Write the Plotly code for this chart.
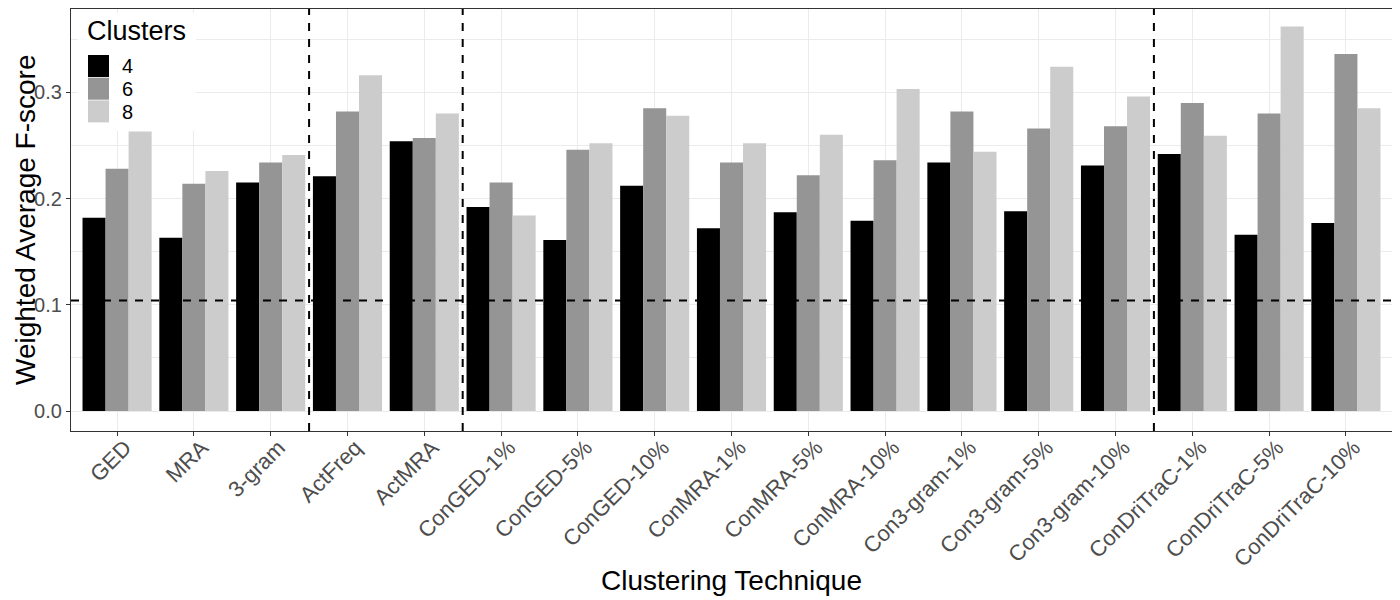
import plotly.graph_objects as go

categories = ["GED", "MRA", "3-gram", "ActFreq", "ActMRA",
              "ConGED-1%", "ConGED-5%", "ConGED-10%",
              "ConMRA-1%", "ConMRA-5%", "ConMRA-10%",
              "Con3-gram-1%", "Con3-gram-5%", "Con3-gram-10%",
              "ConDriTraC-1%", "ConDriTraC-5%", "ConDriTraC-10%"]

clusters_4 = [0.182, 0.163, 0.215, 0.221, 0.254, 0.192, 0.161, 0.212, 0.172,
              0.187, 0.179, 0.234, 0.188, 0.231, 0.242, 0.166, 0.177]
clusters_6 = [0.228, 0.214, 0.234, 0.282, 0.257, 0.215, 0.246, 0.285, 0.234,
              0.222, 0.236, 0.282, 0.266, 0.268, 0.290, 0.280, 0.336]
clusters_8 = [0.263, 0.226, 0.241, 0.316, 0.280, 0.184, 0.252, 0.278, 0.252,
              0.260, 0.303, 0.244, 0.324, 0.296, 0.259, 0.362, 0.285]

series_names = ["4", "6", "8"]
series_values = [clusters_4, clusters_6, clusters_8]
series_colors = ["#000000", "#959595", "#CCCCCC"]

baseline = 0.104
separators = [2.5, 4.5, 13.5]
yticks = [0.0, 0.1, 0.2, 0.3]

FONT = "Liberation Sans, Arial, sans-serif"
OFF = 8  # page body margin
W, H = 1400 - OFF, 600 - OFF
# panel edges in page pixels
PL, PR, PT, PB = 71, 1392, 9, 431
L, R, T, B = PL - OFF, (W + OFF) - PR, PT - OFF, (H + OFF) - PB
PW, PH = PR - PL, PB - PT
Y0_PIX, PIX_PER_UNIT = 411.0, 1062.3  # page pixel of y=0 and scale


def px(x):
    return (x - PL) / PW


def py(y):
    return (PB - y) / PH


yrange = [(Y0_PIX - PB) / PIX_PER_UNIT, (Y0_PIX - PT) / PIX_PER_UNIT]

fig = go.Figure()
for name, vals, col in zip(series_names, series_values, series_colors):
    fig.add_trace(go.Bar(x=categories, y=vals, name=name, marker_color=col,
                         marker_line_width=0, showlegend=False))

shapes = []
for s in separators:
    shapes.append(dict(type="line", xref="x", yref="paper", x0=s, x1=s, y0=0, y1=1,
                       line=dict(color="black", width=2, dash="8px,8px"), layer="above"))
shapes.append(dict(type="line", xref="paper", yref="y", x0=0, x1=1, y0=baseline, y1=baseline,
                   line=dict(color="black", width=2, dash="8px,8px"), layer="above"))

# legend box (inside panel, top-left)
shapes.append(dict(type="rect", xref="paper", yref="paper", x0=px(78), x1=px(196),
                   y0=py(131), y1=py(13), fillcolor="white", line=dict(width=0), layer="above"))
annotations = [dict(text="Clusters", xref="paper", yref="paper", x=px(85), y=py(31),
                    xanchor="left", yanchor="middle", showarrow=False,
                    font=dict(family=FONT, size=27, color="black"))]
key_top = 55
key_h = 22.7
for i, (name, col) in enumerate(zip(series_names, series_colors)):
    y0 = key_top + i * key_h
    shapes.append(dict(type="rect", xref="paper", yref="paper", x0=px(88), x1=px(109),
                       y0=py(y0 + key_h - 0.7), y1=py(y0), fillcolor=col,
                       line=dict(width=0), layer="above"))
    annotations.append(dict(text=name, xref="paper", yref="paper", x=px(120),
                            y=py(y0 + key_h / 2), xanchor="left", yanchor="middle",
                            showarrow=False, font=dict(family=FONT, size=20, color="black")))

annotations.append(dict(text="Clustering Technique", xref="paper", yref="paper",
                        x=0.5, y=py(580), xanchor="center", yanchor="middle", showarrow=False,
                        font=dict(family=FONT, size=28, color="black")))
annotations.append(dict(text="Weighted Average F-score", xref="paper", yref="paper",
                        x=px(25), y=0.5, xanchor="center", yanchor="middle", textangle=-90,
                        showarrow=False, font=dict(family=FONT, size=28, color="black")))

fig.update_layout(
    width=W, height=H,
    margin=dict(l=L, r=R, t=T, b=B, pad=0),
    paper_bgcolor="white", plot_bgcolor="white",
    barmode="group", bargap=0.1, bargroupgap=0,
    shapes=shapes, annotations=annotations,
    font=dict(family=FONT),
)
fig.update_xaxes(
    type="category", categoryorder="array", categoryarray=categories,
    range=[-0.6, len(categories) - 0.4],
    showgrid=True, gridcolor="#EBEBEB", gridwidth=1,
    showline=True, mirror=True, linecolor="#333333", linewidth=1.2,
    ticks="outside", ticklen=4, tickcolor="#333333", tickwidth=1,
    tickangle=-45, tickfont=dict(family=FONT, size=22, color="#4D4D4D"),
    ticklabelshift=8, ticklabelstandoff=-10,
    zeroline=False,
)
fig.update_yaxes(
    range=yrange,
    tickvals=yticks, tickformat=".1f",
    showgrid=True, gridcolor="#EBEBEB", gridwidth=1,
    minor=dict(dtick=0.05, tick0=0, showgrid=True, gridcolor="#EBEBEB", gridwidth=1),
    showline=True, mirror=True, linecolor="#333333", linewidth=1.2,
    ticks="outside", ticklen=4, tickcolor="#333333", tickwidth=1,
    tickfont=dict(family=FONT, size=20, color="#4D4D4D"),
    zeroline=False,
)

fig.write_html("out.html")
